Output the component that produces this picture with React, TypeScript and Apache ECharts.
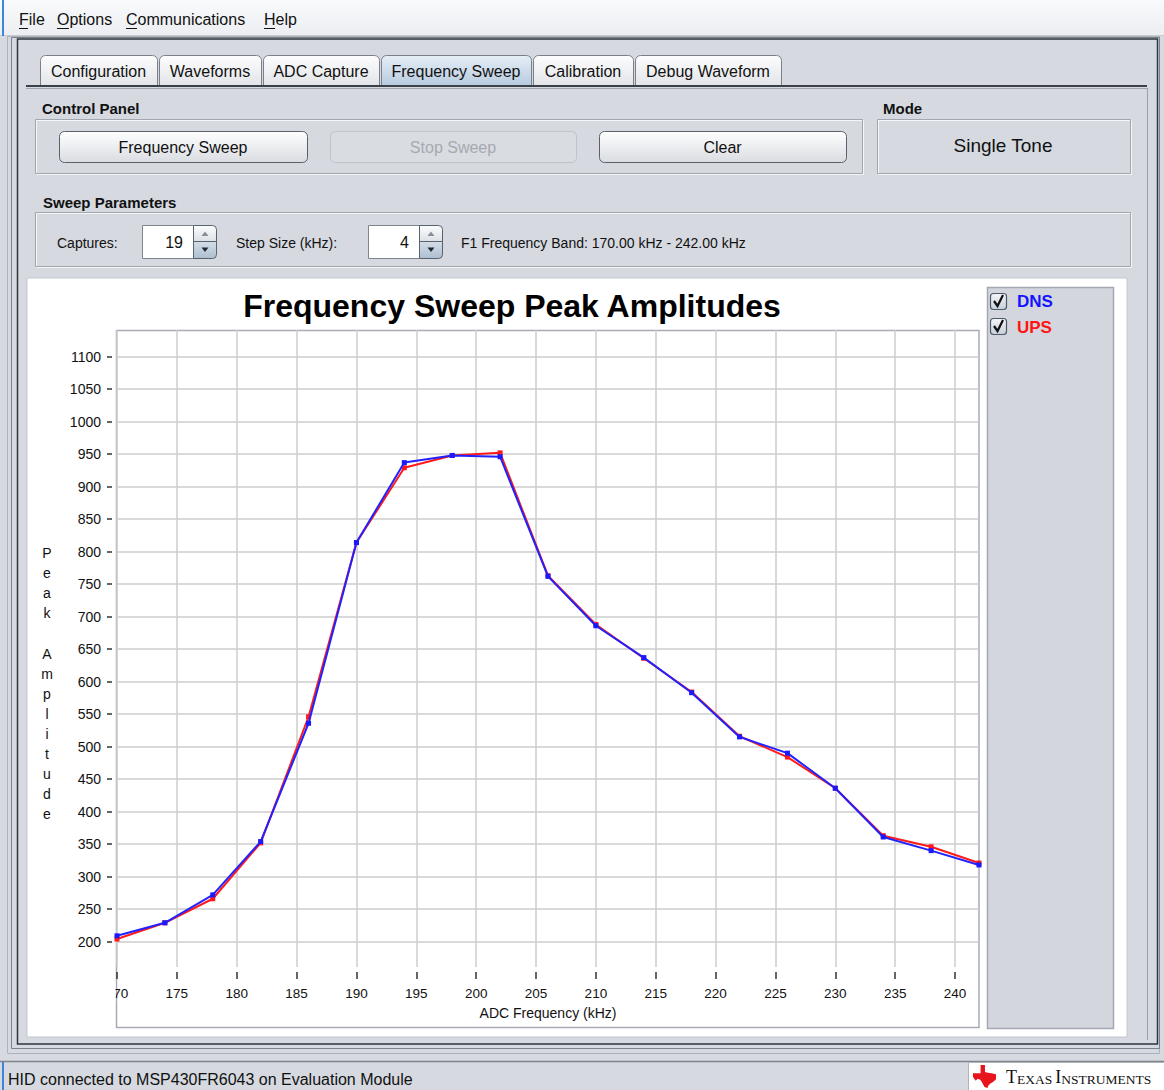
import React, { useEffect, useRef } from 'react';
import * as echarts from 'echarts';

// ---------- chart data ----------
const frequencies = [170, 174, 178, 182, 186, 190, 194, 198, 202, 206, 210, 214, 218, 222, 226, 230, 234, 238, 242];
const dnsAmplitude = [209, 229, 272, 354, 536, 814, 937, 948, 946, 762, 686, 637, 583, 515, 490, 436, 361, 340, 318];
const upsAmplitude = [204, 229, 266, 352, 546, 814, 929, 948, 952, 763, 688, 636, 584, 516, 484, 436, 363, 346, 321];
const xTickValues = [170, 175, 180, 185, 190, 195, 200, 205, 210, 215, 220, 225, 230, 235, 240];
const yTickValues = [200, 250, 300, 350, 400, 450, 500, 550, 600, 650, 700, 750, 800, 850, 900, 950, 1000, 1050, 1100];
const seriesNames = ['DNS', 'UPS'];

// ---------- GUI texts ----------
const menuItems = ['File', 'Options', 'Communications', 'Help'];
const tabLabels = ['Configuration', 'Waveforms', 'ADC Capture', 'Frequency Sweep', 'Calibration', 'Debug Waveform'];
const chartTitle = 'Frequency Sweep Peak Amplitudes';
const xAxisName = 'ADC Frequency (kHz)';
const yAxisName = 'P\ne\na\nk\n\nA\nm\np\nl\ni\nt\nu\nd\ne';
const capturesValue = '19';
const stepSizeValue = '4';
const bandText = 'F1 Frequency Band: 170.00 kHz - 242.00 kHz';
const statusText = 'HID connected to MSP430FR6043 on Evaluation Module';

const FONT = '"Liberation Sans", Arial, sans-serif';
const BG = '#d6d9e0';

const grad = (a: string, b: string) => ({
  type: 'linear', x: 0, y: 0, x2: 0, y2: 1,
  colorStops: [{ offset: 0, color: a }, { offset: 1, color: b }],
});

const txt = (x: number, y: number, text: string, o: any = {}) => ({
  type: 'text', x, y, z: o.z ?? -5, silent: true,
  style: {
    text, fill: o.fill ?? '#111', fontSize: o.size ?? 14, fontFamily: o.family ?? FONT,
    fontWeight: o.weight ?? 'normal', align: o.align ?? 'left', verticalAlign: o.va ?? 'middle',
    lineHeight: o.lineHeight,
  },
});

const rect = (x: number, y: number, w: number, h: number, style: any, z = -9, r: any = 0) => ({
  type: 'rect', z, silent: true, shape: { x, y, width: w, height: h, r }, style,
});

const line = (x1: number, y1: number, x2: number, y2: number, stroke: string, lineWidth = 1, z = -8) => ({
  type: 'line', z, silent: true, shape: { x1, y1, x2, y2 }, style: { stroke, lineWidth },
});

const etched = (x: number, y: number, w: number, h: number) => [
  rect(x + 1.5, y + 1.5, w, h, { fill: 'none', stroke: '#f5f6f8', lineWidth: 1 }, -9),
  rect(x + 0.5, y + 0.5, w, h, { fill: 'none', stroke: '#a2a6ae', lineWidth: 1 }, -9),
];

const button = (x: number, y: number, w: number, h: number, label: string, enabled: boolean) => [
  rect(x + 0.5, y + 0.5, w, h, {
    fill: enabled ? grad('#ffffff', '#d9dce1') : '#d9dce1',
    stroke: enabled ? '#5b6169' : '#c0c4ca', lineWidth: 1,
  }, -8, 5),
  txt(x + w / 2, y + h / 2 + 1, label, { size: 16, align: 'center', fill: enabled ? '#111' : '#a6aab0' }),
];

const spinner = (x: number, value: string) => [
  rect(x + 0.5, 225.5, 51, 33, { fill: '#ffffff', stroke: '#7f858d', lineWidth: 1 }, -8),
  txt(x + 41, 242, value, { size: 16, align: 'right' }),
  rect(x + 51.5, 225.5, 23, 16, { fill: grad('#fbfcfd', '#dde1e6'), stroke: '#59636e', lineWidth: 1 }, -8, [0, 4, 0, 0]),
  rect(x + 51.5, 241.5, 23, 17, { fill: grad('#d3dde8', '#aebfd0'), stroke: '#59636e', lineWidth: 1 }, -8, [0, 0, 4, 0]),
  { type: 'polygon', z: -7, silent: true, shape: { points: [[x + 59.5, 236], [x + 66.5, 236], [x + 63, 231.5]] }, style: { fill: '#8a9099' } },
  { type: 'polygon', z: -7, silent: true, shape: { points: [[x + 59.5, 247.5], [x + 66.5, 247.5], [x + 63, 252]] }, style: { fill: '#22282f' } },
];

const checkbox = (x: number, y: number) => [
  rect(x + 0.5, y + 0.5, 16, 16, { fill: grad('#f4f6f9', '#c5cfd9'), stroke: '#4e5a66', lineWidth: 1.2 }, 5, 3),
  { type: 'polyline', z: 6, silent: true, shape: { points: [[x + 4, y + 8], [x + 7.5, y + 13], [x + 13, y + 2]] }, style: { stroke: '#111', lineWidth: 2.2, fill: 'none' } },
];

const texasShape = (ox: number, oy: number, s: number) => {
  const pts = [
    [0.33, 0], [0.52, 0], [0.52, 0.3], [0.64, 0.34], [0.8, 0.36], [1.0, 0.4], [1.0, 0.62], [0.9, 0.72],
    [0.76, 0.8], [0.66, 0.9], [0.63, 1.0], [0.5, 0.96], [0.42, 0.8], [0.32, 0.64], [0.2, 0.6],
    [0.12, 0.68], [0.0, 0.52], [0.0, 0.36], [0.33, 0.36],
  ];
  return { type: 'polygon', z: 6, silent: true, shape: { points: pts.map(([a, b]) => [ox + a * s, oy + b * s]) }, style: { fill: '#e8141c' } };
};

function buildGraphics() {
  const g: any[] = [];
  // menu bar
  g.push(rect(0, 0, 1164, 35, { fill: grad('#f9fafc', '#eceef2') }, -10));
  g.push(line(0, 35.5, 1164, 35.5, '#c6cad1', 1, -9));
  g.push(rect(2, 0, 2, 36, { fill: '#3d86d8' }, -8));
  const menuX = [19, 57, 126, 264];
  const menuU = [9, 12, 11, 11];
  menuItems.forEach((m, i) => {
    g.push(txt(menuX[i], 19, m, { size: 16 }));
    g.push(line(menuX[i], 28.5, menuX[i] + menuU[i], 28.5, '#111', 1, -5));
  });

  // frames
  g.push(rect(7.5, 36.5, 1152, 1017, { fill: 'none', stroke: '#aeb3ba', lineWidth: 1 }, -9));
  g.push(rect(11.5, 37.5, 1148, 1011, { fill: 'none', stroke: '#7c828a', lineWidth: 1 }, -9));
  g.push(rect(17.5, 39, 1140, 1005, { fill: 'none', stroke: '#2f343b', lineWidth: 1.5 }, -9));
  g.push(line(1147.5, 88, 1147.5, 1040, '#9aa0a8', 1, -9));

  // tabs
  const tabX = [40, 159, 263, 381, 533, 635];
  const tabW = [117, 102, 116, 150, 100, 146];
  tabLabels.forEach((t, i) => {
    const sel = i === 3;
    g.push(rect(tabX[i] + 0.5, 55.5, tabW[i], 30, {
      fill: sel ? grad('#e6eef7', '#b7cbdf') : grad('#fdfdfe', '#e2e4e8'),
      stroke: '#7a8089', lineWidth: 1,
    }, -8, [5, 5, 0, 0]));
    g.push(txt(tabX[i] + tabW[i] / 2, 71, t, { size: 16, align: 'center' }));
  });
  g.push(line(26, 86, 1147, 86, '#394048', 2, -7));
  g.push(line(26, 88.5, 1147, 88.5, '#a0a6ae', 1, -7));

  // control panel
  g.push(txt(42, 108, 'Control Panel', { size: 15, weight: 'bold' }));
  g.push(...etched(35, 119, 827, 54));
  g.push(...button(59, 131, 248, 31, 'Frequency Sweep', true));
  g.push(...button(330, 131, 246, 31, 'Stop Sweep', false));
  g.push(...button(599, 131, 247, 31, 'Clear', true));
  g.push(txt(883, 108, 'Mode', { size: 15, weight: 'bold' }));
  g.push(...etched(877, 119, 253, 54));
  g.push(txt(1003, 145, 'Single Tone', { size: 19, align: 'center' }));

  // sweep parameters
  g.push(txt(43, 202, 'Sweep Parameters', { size: 15, weight: 'bold' }));
  g.push(...etched(35, 212, 1095, 54));
  g.push(txt(57, 243, 'Captures:', { size: 14 }));
  g.push(...spinner(142, capturesValue));
  g.push(txt(236, 243, 'Step Size (kHz):', { size: 14 }));
  g.push(...spinner(368, stepSizeValue));
  g.push(txt(461, 243, bandText, { size: 14 }));

  // chart panel
  g.push(rect(27, 278, 1100, 759, { fill: '#ffffff', stroke: '#c3c7ce', lineWidth: 1 }, -9));
  g.push(txt(512, 306, chartTitle, { size: 32, weight: 'bold', align: 'center', fill: '#000' }));
  g.push(rect(116.5, 330.5, 862.5, 697, { fill: '#ffffff', stroke: '#a8aab8', lineWidth: 1.5 }, -8));
  g.push(txt(47, 543, yAxisName, { size: 14, align: 'center', va: 'top', lineHeight: 20.1 }));
  // clip of the first x label at the plot edge
  g.push(rect(96, 983, 19.5, 20, { fill: '#ffffff' }, 50));

  // legend panel
  g.push(rect(987.5, 287.5, 126, 741, { fill: '#d3d6dd', stroke: '#a4a8b3', lineWidth: 1.5 }, -8));
  g.push(...checkbox(990, 293));
  g.push(...checkbox(990, 318));

  // status bar
  g.push(rect(0, 1062, 1164, 28, { fill: BG }, -9));
  g.push(line(0, 1061.5, 1164, 1061.5, '#7e848c', 1.5, -8));
  g.push(rect(2, 1062, 2, 28, { fill: '#3d86d8' }, -7));
  g.push(txt(8, 1079, statusText, { size: 16 }));
  g.push(rect(968.5, 1062.5, 196, 28, { fill: '#ffffff', stroke: '#b0b4bb', lineWidth: 1 }, -7));
  g.push(texasShape(973, 1065, 23));
  g.push({
    type: 'text', x: 1006, y: 1077, z: 6, silent: true,
    style: {
      text: '{b|T}{s|EXAS} {b|I}{s|NSTRUMENTS}', verticalAlign: 'middle', align: 'left',
      fill: '#111', fontFamily: '"Liberation Serif", serif',
      rich: {
        b: { fontSize: 18, fontFamily: '"Liberation Serif", serif', fill: '#111', verticalAlign: 'bottom' },
        s: { fontSize: 13.5, fontFamily: '"Liberation Serif", serif', fill: '#111', verticalAlign: 'bottom' },
      },
    },
  });
  return g;
}

export default function App() {
  const ref = useRef<HTMLDivElement>(null);
  useEffect(() => {
    if (!ref.current) return;
    const chart = echarts.init(ref.current, undefined, { renderer: 'svg' });
    const option: any = {
      animation: false,
      backgroundColor: BG,
      textStyle: { fontFamily: FONT },
      grid: { left: 117, top: 330, width: 862, height: 637, show: false },
      xAxis: {
        type: 'value', min: 170, max: 242, offset: 5,
        name: xAxisName, nameLocation: 'middle', nameGap: 34,
        nameTextStyle: { fontSize: 14, color: '#111', fontFamily: FONT },
        axisLine: { show: false },
        axisTick: { show: true, length: 7, customValues: xTickValues, lineStyle: { color: '#333', width: 1.5 } },
        axisLabel: { customValues: xTickValues, margin: 14, fontSize: 13.5, color: '#111', fontFamily: FONT, formatter: (v: number) => String(v) },
        splitLine: { show: true, lineStyle: { color: '#cdcdcd', width: 1.5 } },
      },
      yAxis: {
        type: 'value', min: 161, max: 1141, offset: 5,
        axisLine: { show: false },
        axisTick: { show: true, length: 5, customValues: yTickValues, lineStyle: { color: '#333', width: 1.5 } },
        axisLabel: { customValues: yTickValues, margin: 11, fontSize: 14, color: '#111', fontFamily: FONT, formatter: (v: number) => String(v) },
        splitLine: { show: true, lineStyle: { color: '#cdcdcd', width: 1.5 } },
      },
      legend: {
        show: true, orient: 'vertical', left: 998, top: 293, padding: 0,
        itemWidth: 14, itemHeight: 14, itemGap: 9, icon: 'none', selectedMode: false,
        data: [
          { name: seriesNames[0], textStyle: { color: '#1414ff' } },
          { name: seriesNames[1], textStyle: { color: '#ff1414' } },
        ],
        textStyle: { fontSize: 17, fontWeight: 'bold', fontFamily: FONT },
      },
      series: [
        {
          name: seriesNames[1], type: 'line', z: 3,
          data: frequencies.map((f, i) => [f, upsAmplitude[i]]),
          color: '#ff1a1a', symbol: 'rect', symbolSize: 5, showSymbol: true,
          lineStyle: { width: 2, color: '#ff1a1a' }, itemStyle: { color: '#ff1a1a' },
        },
        {
          name: seriesNames[0], type: 'line', z: 4,
          data: frequencies.map((f, i) => [f, dnsAmplitude[i]]),
          color: '#1a1aff', symbol: 'rect', symbolSize: 5, showSymbol: true,
          lineStyle: { width: 2, color: '#2222ff' }, itemStyle: { color: '#1a1aff' },
        },
      ],
      graphic: { elements: buildGraphics() },
    };
    chart.setOption(option);
    return () => chart.dispose();
  }, []);
  return (
    <div
      ref={ref}
      style={{ position: 'absolute', left: 0, top: 0, width: 1164, height: 1090 }}
    />
  );
}
